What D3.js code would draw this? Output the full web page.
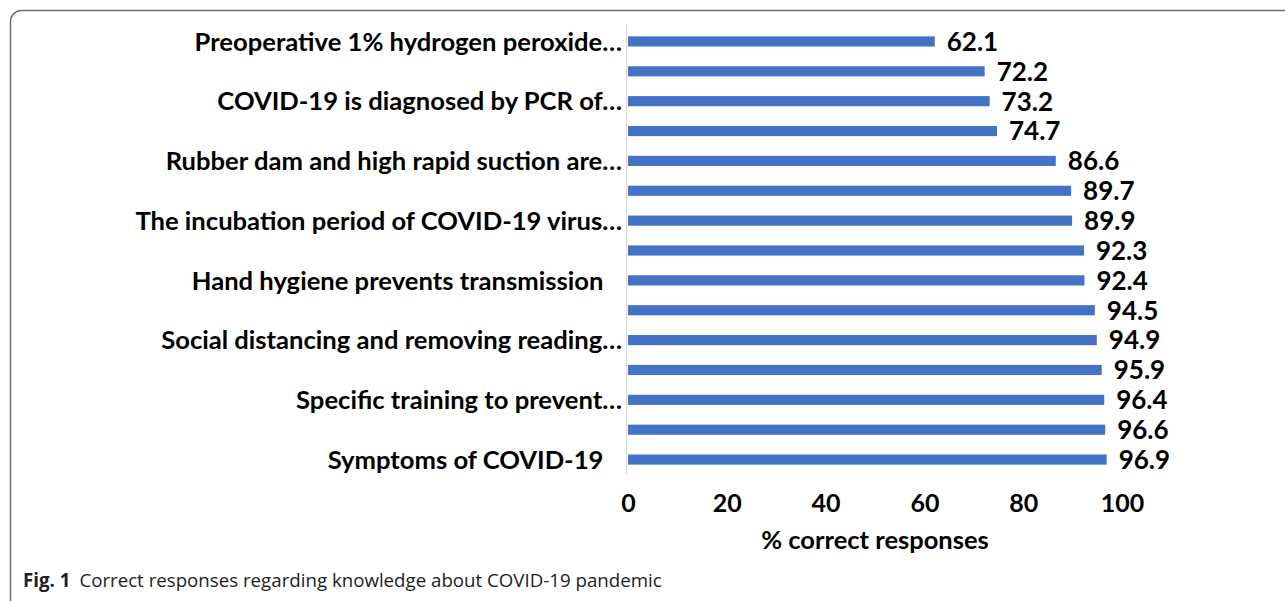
<!DOCTYPE html>
<html>
<head>
<meta charset="utf-8">
<script src="https://cdn.jsdelivr.net/npm/d3@7"></script>
<style>
  body { margin: 0; background: #fff; }
  svg { display: block; }
</style>
</head>
<body>
<svg></svg>
<script>
const width = 1285;
const height = 601;

// every other category label is hidden in the original figure
const labels = [
  "Preoperative 1% hydrogen peroxide…",
  "",
  "COVID-19 is diagnosed by PCR of…",
  "",
  "Rubber dam and high rapid suction are…",
  "",
  "The incubation period of COVID-19 virus…",
  "",
  "Hand hygiene prevents transmission   ",
  "",
  "Social distancing and removing reading…",
  "",
  "Specific training to prevent…",
  "",
  "Symptoms of COVID-19   "
];
const values = [62.1, 72.2, 73.2, 74.7, 86.6, 89.7, 89.9, 92.3, 92.4, 94.5, 94.9, 95.9, 96.4, 96.6, 96.9];
const ticks = [0, 20, 40, 60, 80, 100];

const svg = d3.select("svg").attr("width", width).attr("height", height);

// rounded frame running off the right/bottom edge
svg.append("rect")
  .attr("x", 10.5).attr("y", 10.5)
  .attr("width", 1400).attr("height", 640)
  .attr("rx", 11)
  .attr("fill", "none")
  .attr("stroke", "#6d6d6d")
  .attr("stroke-width", 1.5);

const x = d3.scaleLinear().domain([0, 100]).range([628, 1122]);
const y = d3.scaleBand()
  .domain(d3.range(values.length))
  .range([26.5, 474.5])
  .paddingInner(0.66)
  .paddingOuter(0.33);

const font = "Lato, 'Open Sans', sans-serif";

// vertical axis line
svg.append("line")
  .attr("x1", x(0) - 1.5).attr("x2", x(0) - 1.5)
  .attr("y1", 25).attr("y2", 474)
  .attr("stroke", "#d9d9d9")
  .attr("stroke-width", 1);

svg.append("g")
  .selectAll("rect")
  .data(values)
  .join("rect")
  .attr("x", x(0))
  .attr("y", (d, i) => y(i))
  .attr("width", (d) => x(d) - x(0))
  .attr("height", y.bandwidth())
  .attr("fill", "#4472c4");

svg.append("g")
  .selectAll("text")
  .data(values)
  .join("text")
  .attr("x", (d) => x(d) + 12)
  .attr("y", (d, i) => y(i) + y.bandwidth() / 2)
  .attr("dy", "0.36em")
  .attr("font-family", font)
  .attr("font-weight", "bold")
  .attr("font-size", 26)
  .attr("fill", "#000")
  .text((d) => d.toFixed(1));

svg.append("g")
  .selectAll("text")
  .data(labels)
  .join("text")
  .attr("x", 622)
  .attr("y", (d, i) => y(i) + y.bandwidth() / 2)
  .attr("dy", "0.36em")
  .attr("text-anchor", "end")
  .attr("font-family", font)
  .attr("font-weight", "bold")
  .attr("font-size", 25.6)
  .attr("fill", "#000")
  .style("white-space", "pre")
  .text((d) => d);

// x axis tick labels
const xAxis = d3.axisBottom(x).tickValues(ticks).tickSize(0).tickPadding(0);
const gx = svg.append("g").attr("transform", "translate(0,495)").call(xAxis);
gx.select(".domain").remove();
gx.selectAll("text")
  .attr("font-family", font)
  .attr("font-weight", "bold")
  .attr("font-size", 25)
  .attr("fill", "#000")
  .attr("dy", "0.36em")
  .attr("y", 7.5);

svg.append("text")
  .attr("x", (x(0) + x(100)) / 2)
  .attr("y", 549)
  .attr("text-anchor", "middle")
  .attr("font-family", font)
  .attr("font-weight", "bold")
  .attr("font-size", 25.5)
  .text("% correct responses");

const cap = svg.append("text")
  .attr("x", 23)
  .attr("y", 587)
  .attr("font-family", "'Open Sans', 'Noto Sans', sans-serif")
  .attr("font-size", 18.7)
  .attr("fill", "#222");
cap.append("tspan").attr("font-weight", "bold").text("Fig. 1");
cap.append("tspan").attr("dx", 9).text("Correct responses regarding knowledge about COVID-19 pandemic");
</script>
</body>
</html>
